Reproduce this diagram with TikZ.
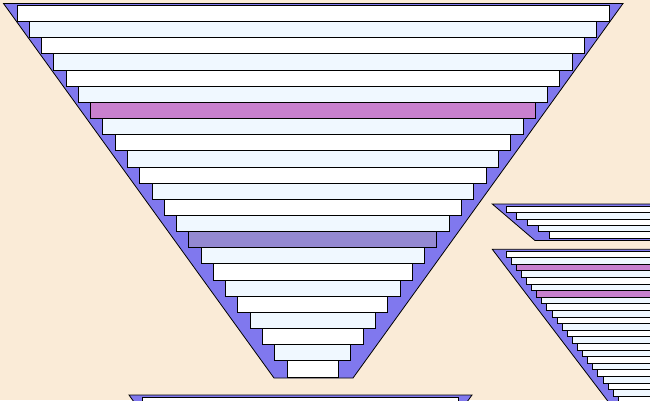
\documentclass[tikz,border=0pt]{standalone}
\definecolor{bg}{RGB}{250,235,215}
\definecolor{slate}{RGB}{128,120,238}
\definecolor{alice}{RGB}{240,248,255}
\definecolor{orch}{RGB}{200,128,206}
\definecolor{mpurp}{RGB}{148,137,210}
\begin{document}
\begin{tikzpicture}[x=1pt,y=-1pt,line join=miter]
\tikzset{tray/.style={fill=slate,draw=black,line width=0.8pt},
         bar/.style={draw=black,line width=0.8pt}}
\fill[bg] (0,0) rectangle (650,400);
\useasboundingbox (0,0) rectangle (650,400);
\clip (0,0) rectangle (650,400);
% big funnel
\draw[tray] (3.5,3.5) -- (623,3.5) -- (353,378) -- (274,378) -- cycle;
\foreach \i in {0,...,22}{
  \pgfmathsetmacro\yt{5.3+16.16*\i}
  \pgfmathsetmacro\yb{\yt+16.16}
  \pgfmathsetmacro\xl{17+12.27*\i}
  \pgfmathsetmacro\xr{609-12.3*\i}
  \pgfmathtruncatemacro\odd{mod(\i,2)}
  \ifnum\odd=1 \def\bc{alice}\else\def\bc{white}\fi
  \ifnum\i=6 \def\bc{orch}\fi
  \ifnum\i=14 \def\bc{mpurp}\fi
  \draw[bar,fill=\bc] (\xl,\yt) rectangle (\xr,\yb);
}
% small funnel A
\draw[tray] (492.3,204) -- (700,204) -- (700,240.5) -- (535,240.5) -- cycle;
\foreach \i in {0,...,4}{
  \pgfmathsetmacro\yt{206+6.46*\i}
  \pgfmathsetmacro\yb{\yt+6.46}
  \pgfmathsetmacro\xl{506+10.85*\i}
  \pgfmathtruncatemacro\odd{mod(\i,2)}
  \ifnum\odd=1 \def\bc{alice}\else\def\bc{white}\fi
  \draw[bar,fill=\bc] (\xl,\yt) rectangle (700,\yb);
}
% small funnel B
\draw[tray] (492.3,249.3) -- (700,249.3) -- (700,420) -- (622.2,420) -- cycle;
\foreach \i in {0,...,24}{
  \pgfmathsetmacro\yt{251+6.6*\i}
  \pgfmathsetmacro\yb{\yt+6.6}
  \pgfmathsetmacro\xl{506+5.1*\i}
  \pgfmathtruncatemacro\odd{mod(\i,2)}
  \ifnum\odd=1 \def\bc{alice}\else\def\bc{white}\fi
  \ifnum\i=2 \def\bc{orch}\fi
  \ifnum\i=6 \def\bc{orch}\fi
  \draw[bar,fill=\bc] (\xl,\yt) rectangle (700,\yb);
}
% bottom funnel C
\draw[tray] (129,395) -- (472,395) -- (454,420) -- (147,420) -- cycle;
\draw[bar,fill=white] (142,397.7) rectangle (458.3,420);
\end{tikzpicture}
\end{document}
